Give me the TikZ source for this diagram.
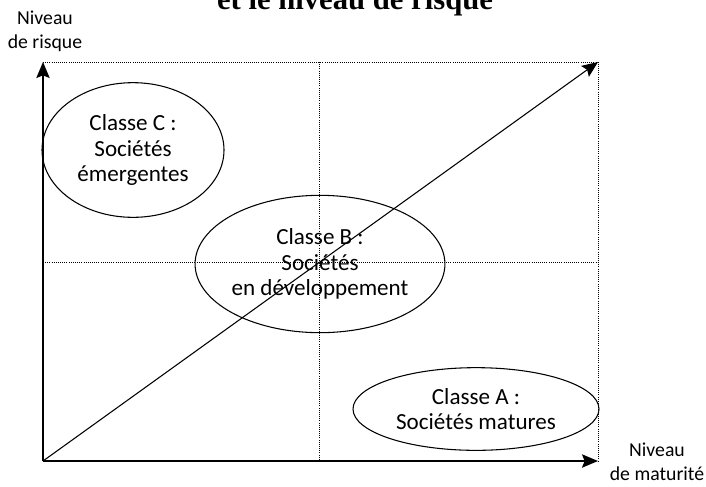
\documentclass[tikz,border=0pt]{standalone}
\usepackage{fontspec}
\setmainfont{Carlito}
\newfontfamily\titrefont{Liberation Serif}
\usepackage{tikz}
\usetikzlibrary{shapes,arrows.meta,backgrounds,positioning}
\tikzstyle{classe}=[ellipse, draw, line width=0.8pt, inner sep=0pt, align=center, font=\fontsize{17.3}{19}\selectfont]
\tikzstyle{axe}=[line width=1.1pt, -{Stealth[length=12pt,width=10pt,inset=2pt]}]
\tikzstyle{diag}=[line width=0.8pt, -{Stealth[length=12pt,width=10pt,inset=2pt]}]
\tikzstyle{grille}=[densely dotted, line width=0.6pt]
\tikzstyle{etiq}=[align=center, font=\fontsize{14.8}{18}\selectfont]

\begin{document}
\begin{tikzpicture}[x=0.75pt,y=-0.75pt]
\useasboundingbox (0,0) rectangle (706,486);

%Titre
\node[anchor=base, font=\titrefont\bfseries\fontsize{23}{27}\selectfont] (titre) at (355,9){et le niveau de risque};

%Reperes
\coordinate (O) at (43,461);
\coordinate (xmax) at (598,461);
\coordinate (ymax) at (43,62);
\coordinate (coin) at (598,62);
\coordinate (gmil) at (43,262);
\coordinate (dmil) at (598,262);
\coordinate (hmil) at (319,62);
\coordinate (bmil) at (319,461);

%Axes
\draw[axe] (O) -- (xmax);
\draw[axe] (O) -- (ymax);
\draw[diag] (O) -- (coin);
\node[etiq] (risque) at (45,31){Niveau\\de risque};
\node[etiq] (maturite) at (657,462){Niveau\\de maturit\'e};

%Classes
\node[classe, minimum width=136.5pt, minimum height=101pt] (cC) at (133,150){Classe C :\\Soci\'et\'es\\\'emergentes};
\node[classe, minimum width=184.5pt, minimum height=103pt] (cB) at (320,264){Classe B :\\Soci\'et\'es\\en d\'eveloppement};
\node[classe, minimum width=184.5pt, minimum height=62pt] (cA) at (476,409){Classe A :\\Soci\'et\'es matures};

%background
\begin{scope}[on background layer]
\draw[grille] (ymax) -- (coin) -- (xmax);
\draw[grille] (gmil) -- (dmil);
\draw[grille] (hmil) -- (bmil);
\end{scope}

\end{tikzpicture}
\end{document}
